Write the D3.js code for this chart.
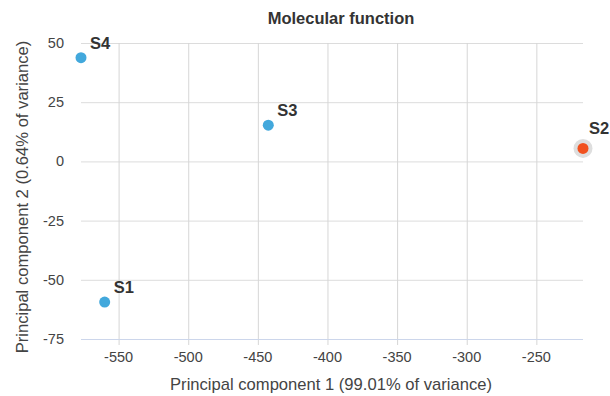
<!doctype html>
<html lang="en">
<head>
<meta charset="UTF-8">
<title>Molecular function</title>
<style>
  body { margin: 0; background: #fff; }
  text { font-family: "Liberation Sans", Arial, sans-serif; }
</style>
</head>
<body>
<script src="https://cdn.jsdelivr.net/npm/d3@7"></script>
<script>
    // sample scores on the first two principal components
    const samples = ['S1', 'S2', 'S3', 'S4']
    const pc1 = [-560, -216.5, -442.5, -577]
    const pc2 = [-59.4, 5.5, 15.3, 43.8]
    const highlighted = ['S2']

    const xTicks = [-550, -500, -450, -400, -350, -300, -250]
    const yTicks = [-75, -50, -25, 0, 25, 50]

    const W = 610, H = 396
    const margin = {top: 43, right: 27, bottom: 57, left: 81}

    const svg = d3.select('body').append('svg')
        .attr('width', W)
        .attr('height', H)

    const data = samples.map((s, i) => ({name: s, x: pc1[i], y: pc2[i], hi: highlighted.includes(s)}))

    const x = d3.scaleLinear()
        .domain(d3.extent(pc1))
        .range([margin.left, W - margin.right])

    const y = d3.scaleLinear()
        .domain([-75, 50])
        .range([H - margin.bottom, margin.top])

    // grid
    svg.append('g')
        .selectAll('line')
        .data(yTicks)
        .enter().append('line')
        .attr('x1', margin.left)
        .attr('x2', W - margin.right)
        .attr('y1', d => y(d) + 0.5)
        .attr('y2', d => y(d) + 0.5)
        .attr('stroke', '#dcdcdc')

    svg.append('g')
        .selectAll('line')
        .data(xTicks)
        .enter().append('line')
        .attr('x1', d => x(d) + 0.5)
        .attr('x2', d => x(d) + 0.5)
        .attr('y1', margin.top)
        .attr('y2', H - margin.bottom + 6)
        .attr('stroke', '#d6d6d6')

    // x axis line
    svg.append('line')
        .attr('x1', margin.left)
        .attr('x2', W - margin.right)
        .attr('y1', y(-75) + 0.5)
        .attr('y2', y(-75) + 0.5)
        .attr('stroke', '#ccd6eb')

    // tick labels
    svg.append('g')
        .selectAll('text')
        .data(xTicks)
        .enter().append('text')
        .attr('x', d => x(d))
        .attr('y', H - margin.bottom + 23)
        .attr('text-anchor', 'middle')
        .attr('font-size', 14.5)
        .attr('fill', '#444')
        .text(d => d)

    svg.append('g')
        .selectAll('text')
        .data(yTicks)
        .enter().append('text')
        .attr('x', 64)
        .attr('y', d => y(d) + 5)
        .attr('text-anchor', 'end')
        .attr('font-size', 14.5)
        .attr('fill', '#444')
        .text(d => d)

    // titles
    svg.append('text')
        .attr('x', 341)
        .attr('y', 24)
        .attr('text-anchor', 'middle')
        .attr('font-size', 16.5)
        .attr('font-weight', 'bold')
        .attr('fill', '#333')
        .text('Molecular function')

    svg.append('text')
        .attr('x', 331)
        .attr('y', 390)
        .attr('text-anchor', 'middle')
        .attr('font-size', 16.6)
        .attr('fill', '#444')
        .text('Principal component 1 (99.01% of variance)')

    svg.append('text')
        .attr('transform', 'translate(28, 197) rotate(-90)')
        .attr('text-anchor', 'middle')
        .attr('font-size', 16.6)
        .attr('fill', '#444')
        .text('Principal component 2 (0.64% of variance)')

    // points
    svg.append('g')
        .selectAll('circle')
        .data(data.filter(d => d.hi))
        .enter().append('circle')
        .attr('cx', d => x(d.x))
        .attr('cy', d => y(d.y))
        .attr('r', 9.5)
        .attr('fill', '#dedede')

    svg.append('g')
        .selectAll('circle')
        .data(data)
        .enter().append('circle')
        .attr('cx', d => x(d.x))
        .attr('cy', d => y(d.y))
        .attr('r', 5.5)
        .attr('fill', d => d.hi ? '#f1511f' : '#42a8dc')

    svg.append('g')
        .selectAll('text')
        .data(data)
        .enter().append('text')
        .attr('x', d => x(d.x) + (d.hi ? 6 : 9))
        .attr('y', d => y(d.y) - (d.hi ? 14 : 9))
        .attr('font-size', 16.5)
        .attr('font-weight', 'bold')
        .attr('fill', '#333')
        .text(d => d.name)
</script>
</body>
</html>
